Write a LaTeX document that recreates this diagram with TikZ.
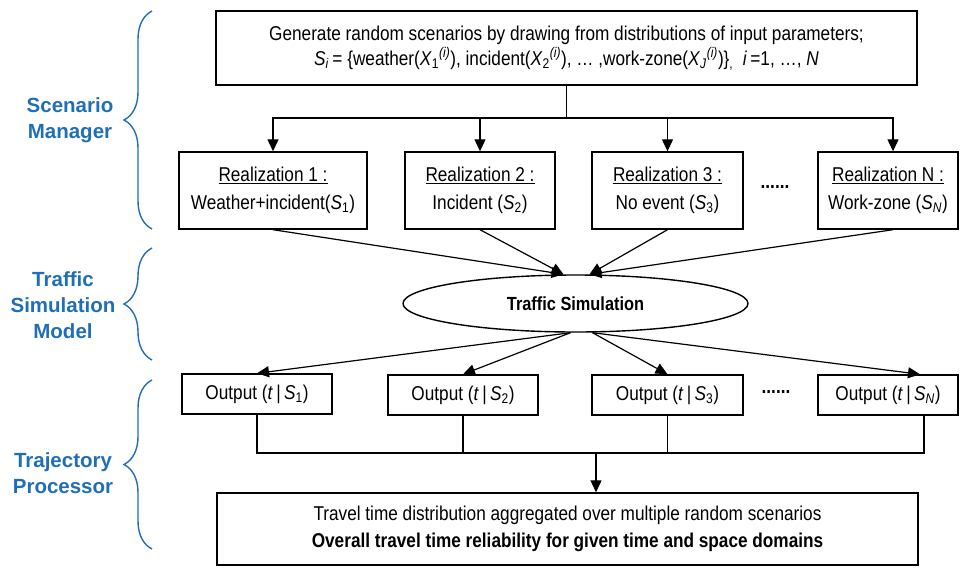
\documentclass[tikz,border=0pt]{standalone}
\usepackage{fontspec}
\setmainfont{Liberation Sans}[FakeStretch=0.86]
\newfontfamily\headfont{Liberation Sans}
\usetikzlibrary{arrows.meta,shapes.geometric,decorations.pathreplacing}
\definecolor{layerblue}{RGB}{31,110,184}
\newcommand{\Sx}[1]{\textit{S}\textsubscript{#1}}
\newcommand{\Xp}[1]{\textit{X}\textsubscript{#1}\textsuperscript{\textit{(i)}}}

\begin{document}
\begin{tikzpicture}[x=1pt,y=-1pt,font=\fontsize{20}{25}\selectfont,
		box/.style={draw,line width=1.4pt,rectangle,align=center,inner sep=0pt},
		real/.style={box,minimum height=77,font=\fontsize{20}{28}\selectfont},
		outbox/.style={box,minimum height=40},
		link/.style={line width=1.2pt},
		arr/.style={link,-{Triangle[length=12pt,width=11pt]}},
		brc/.style={layerblue,line width=1.4pt,decorate,decoration={brace,amplitude=28pt}},
		layer/.style={layerblue,align=center,font=\headfont\bfseries\fontsize{20.5}{26}\selectfont}]
		\useasboundingbox (0,0) rectangle (960,568);
		\node[box,minimum width=701,minimum height=74] (gen) at (566.5,48) {Generate random scenarios by drawing from distributions of input parameters;\\
			\Sx{\textit{i}}\,= \{weather(\Xp{1}), incident(\Xp{2}), \ldots\ ,work-zone(\Xp{\textit{J}})\}\textsubscript{,}\ \ \textit{i}\,=1, \ldots, \textit{N}};
		\node[real,minimum width=188] (r1) at (273,190.5) {\underline{Realization 1 :}\\Weather+incident(\Sx{1})};
		\node[real,minimum width=150] (r2) at (480,190.5) {\underline{Realization 2 :}\\Incident (\Sx{2})};
		\node[real,minimum width=151] (r3) at (667.5,190.5) {\underline{Realization 3 :}\\No event (\Sx{3})};
		\node[real,minimum width=140] (rN) at (888,190.5) {\underline{Realization N :}\\Work-zone (\Sx{\textit{N}})};
		\node[font=\bfseries\fontsize{20}{25}\selectfont] (dots1) at (775,187) {......};
		\node[draw,ellipse,line width=1.4pt,minimum width=345,minimum height=57,inner sep=0pt,font=\bfseries\fontsize{19}{23}\selectfont] (sim) at (575.5,303.5) {Traffic Simulation};
		\node[outbox,minimum width=150] (o1) at (257,394) {Output (\textit{t}\,|\,\Sx{1})};
		\node[outbox,minimum width=150] (o2) at (463,395) {Output (\textit{t}\,|\,\Sx{2})};
		\node[outbox,minimum width=151] (o3) at (667.5,395) {Output (\textit{t}\,|\,\Sx{3})};
		\node[outbox,minimum width=140] (oN) at (888,395) {Output (\textit{t}\,|\,\Sx{\textit{N}})};
		\node[font=\bfseries\fontsize{20}{25}\selectfont] (dots2) at (776,392) {......};
		\node[box,minimum width=701,minimum height=72,font=\fontsize{20}{27}\selectfont] (res) at (567.5,529) {Travel time distribution aggregated over multiple random scenarios\\
			\textbf{Overall travel time reliability for given time and space domains}};
		\coordinate (bus) at (566.5,118);
		\coordinate (simL) at ([xshift=-12]sim.north);
		\coordinate (simR) at ([xshift=14]sim.north);
		\coordinate (simBL) at ([xshift=-5]sim.south);
		\coordinate (simBR) at ([xshift=17]sim.south);
		\coordinate (join) at (596,453);
		\draw[link] (gen.south) -- (bus);
		\foreach \n in {r1,r2,r3}
			\draw[arr] (bus) -| (\n.north);
		\draw[arr] (bus) -| ([xshift=5]rN.north);
		\draw[arr] (r1.south) -- (simL);
		\draw[arr] (r2.south) -- (simL);
		\draw[arr] (r3.south) -- (simR);
		\draw[arr] ([xshift=5]rN.south) -- (simR);
		\draw[arr] (simBL) -- (o1.north);
		\draw[arr] (simBL) -- (o2.north);
		\draw[arr] (simBR) -- (o3.north);
		\draw[arr] (simBR) -- ([xshift=32]oN.north);
		\draw[link] (o1.south) |- ([xshift=36]oN.south |- join) -- ([xshift=36]oN.south);
		\draw[link] (o2.south) -- (o2.south |- join);
		\draw[link] (o3.south) -- (o3.south |- join);
		\draw[arr] (join) -- (join |- res.north);
		\draw[brc] (152,229) -- (152,11);
		\draw[brc] (152,360) -- (152,248);
		\draw[brc] (152,549) -- (152,380);
		\node[layer] (lsm) at (70,120) {Scenario\\Manager};
		\node[layer] (lts) at (63,305) {Traffic\\Simulation\\Model};
		\node[layer] (ltp) at (63,473) {Trajectory\\Processor};
\end{tikzpicture}
\end{document}
